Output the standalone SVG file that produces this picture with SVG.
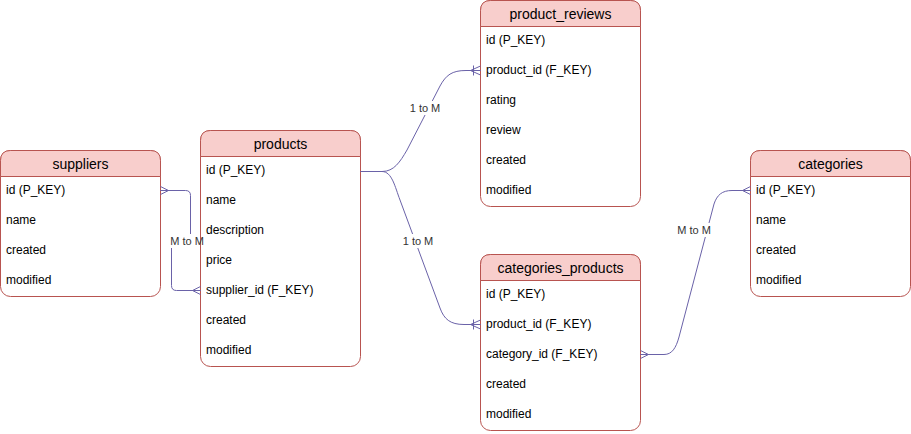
<svg xmlns="http://www.w3.org/2000/svg" width="911" height="434" viewBox="0 0 911 434">
<style>
.body{fill:#ffffff;stroke:#b85450;stroke-width:1}
.head{fill:#f8cecc;stroke:#b85450;stroke-width:1}
.title{font-family:"Liberation Sans",Arial,sans-serif;font-size:14px;fill:#000;text-anchor:middle}
.row{font-family:"Liberation Sans",Arial,sans-serif;font-size:12px;fill:#000}
.edge{fill:none;stroke:#6a62a8;stroke-width:1}
.lbl{font-family:"Liberation Sans",Arial,sans-serif;font-size:11px;fill:#333;text-anchor:middle}
.lblbg{fill:#ffffff}
</style>
<defs>
<marker id="many" markerUnits="userSpaceOnUse" markerWidth="12" markerHeight="12" refX="10" refY="6" orient="auto-start-reverse" overflow="visible">
<path d="M2,6 L10,2 M2,6 L10,10 M2,6 L10,6" fill="none" stroke="#6a62a8" stroke-width="1"/>
</marker>
<marker id="oneMany" markerUnits="userSpaceOnUse" markerWidth="12" markerHeight="12" refX="10" refY="6" orient="auto-start-reverse" overflow="visible">
<path d="M0,6 L10,1.5 M0,6 L10,10.5 M0,6 L10,6 M3,1 L3,11" fill="none" stroke="#6a62a8" stroke-width="1"/>
</marker>
</defs>

<g id="suppliers">
<rect class="body" x="0.5" y="150.5" width="160" height="146" rx="10"/>
<path class="head" d="M0.5,176.5 V160.5 Q0.5,150.5 10.5,150.5 H150.5 Q160.5,150.5 160.5,160.5 V176.5 Z"/>
<text class="title" x="80.5" y="168.5">suppliers</text>
<text class="row" x="6" y="194">id (P_KEY)</text>
<text class="row" x="6" y="224">name</text>
<text class="row" x="6" y="254">created</text>
<text class="row" x="6" y="284">modified</text>
</g>

<g id="products">
<rect class="body" x="200.5" y="130.5" width="160" height="236" rx="10"/>
<path class="head" d="M200.5,156.5 V140.5 Q200.5,130.5 210.5,130.5 H350.5 Q360.5,130.5 360.5,140.5 V156.5 Z"/>
<text class="title" x="280.5" y="148.5">products</text>
<text class="row" x="206" y="174">id (P_KEY)</text>
<text class="row" x="206" y="204">name</text>
<text class="row" x="206" y="234">description</text>
<text class="row" x="206" y="264">price</text>
<text class="row" x="206" y="294">supplier_id (F_KEY)</text>
<text class="row" x="206" y="324">created</text>
<text class="row" x="206" y="354">modified</text>
</g>

<g id="product_reviews">
<rect class="body" x="480.5" y="0.5" width="160" height="206" rx="10"/>
<path class="head" d="M480.5,26.5 V10.5 Q480.5,0.5 490.5,0.5 H630.5 Q640.5,0.5 640.5,10.5 V26.5 Z"/>
<text class="title" x="560.5" y="18.5">product_reviews</text>
<text class="row" x="486" y="44">id (P_KEY)</text>
<text class="row" x="486" y="74">product_id (F_KEY)</text>
<text class="row" x="486" y="104">rating</text>
<text class="row" x="486" y="134">review</text>
<text class="row" x="486" y="164">created</text>
<text class="row" x="486" y="194">modified</text>
</g>

<g id="categories_products">
<rect class="body" x="480.5" y="254.5" width="160" height="176" rx="10"/>
<path class="head" d="M480.5,280.5 V264.5 Q480.5,254.5 490.5,254.5 H630.5 Q640.5,254.5 640.5,264.5 V280.5 Z"/>
<text class="title" x="560.5" y="272.5">categories_products</text>
<text class="row" x="486" y="298">id (P_KEY)</text>
<text class="row" x="486" y="328">product_id (F_KEY)</text>
<text class="row" x="486" y="358">category_id (F_KEY)</text>
<text class="row" x="486" y="388">created</text>
<text class="row" x="486" y="418">modified</text>
</g>

<g id="categories">
<rect class="body" x="750.5" y="150.5" width="160" height="146" rx="10"/>
<path class="head" d="M750.5,176.5 V160.5 Q750.5,150.5 760.5,150.5 H900.5 Q910.5,150.5 910.5,160.5 V176.5 Z"/>
<text class="title" x="830.5" y="168.5">categories</text>
<text class="row" x="756" y="194">id (P_KEY)</text>
<text class="row" x="756" y="224">name</text>
<text class="row" x="756" y="254">created</text>
<text class="row" x="756" y="284">modified</text>
</g>

<g id="connectors">
<g id="e-suppliers-products">
<path class="edge" d="M160.5,190.5 L185.5,190.5 Q190.5,190.5 190.5,195.5 L190.5,241 L171.5,241 L171.5,285.5 Q171.5,290.5 176.5,290.5 L200.5,290.5" marker-start="url(#many)" marker-end="url(#many)"/>
<rect class="lblbg" x="170" y="234" width="30" height="14"/>
<text class="lbl" x="187" y="245">M to M</text>
</g>
<g id="e-products-reviews">
<path class="edge" d="M360.5,171.5 L382,171.5 C394,171.5 400,162 407,150 L440,86 C446,75 452,70.5 466,70.5 L480.5,70.5" marker-end="url(#oneMany)"/>
<rect class="lblbg" x="409" y="101" width="33" height="14"/>
<text class="lbl" x="425" y="112">1 to M</text>
</g>
<g id="e-products-catprod">
<path class="edge" d="M360.5,171.5 L382,171.5 C392,171.5 395,187 400,200 L440,308 C444,319 450,324.5 464,324.5 L480.5,324.5" marker-end="url(#oneMany)"/>
<rect class="lblbg" x="402" y="234" width="33" height="14"/>
<text class="lbl" x="418" y="245">1 to M</text>
</g>
<g id="e-catprod-categories">
<path class="edge" d="M640.5,354.5 L664,354.5 C672,354.5 676,348 679,337 L714,204 C717,195 722,190.5 732,190.5 L750.5,190.5" marker-start="url(#many)" marker-end="url(#many)"/>
<rect class="lblbg" x="676" y="223" width="36" height="14"/>
<text class="lbl" x="694" y="234">M to M</text>
</g>
</g>
</svg>
